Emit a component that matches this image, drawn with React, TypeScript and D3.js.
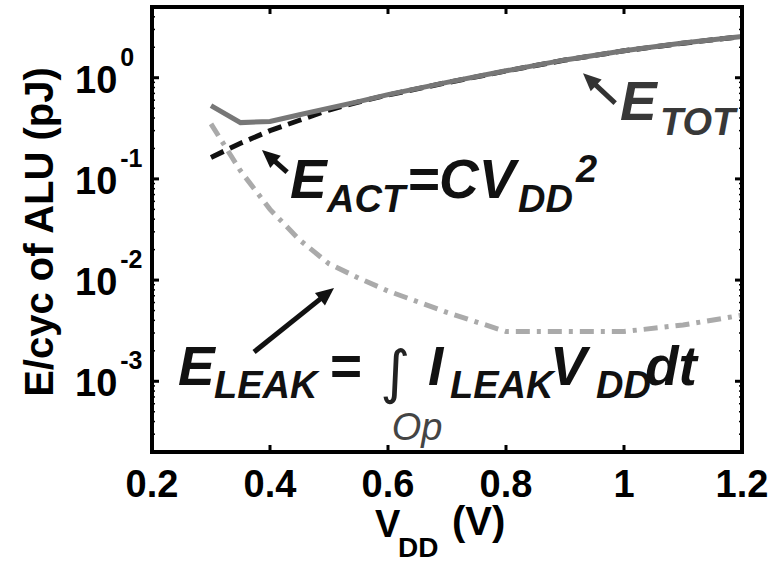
import * as d3 from 'd3';

// supply voltage samples (V)
const VDD = [0.3, 0.35, 0.4, 0.45, 0.5, 0.55, 0.6, 0.7, 0.8, 0.9, 1.0, 1.1, 1.2];
// energy per cycle of ALU (pJ)
const E_TOT = [0.53, 0.36, 0.37, 0.43, 0.5, 0.58, 0.68, 0.9, 1.17, 1.5, 1.85, 2.2, 2.55];
const E_ACT = [0.163, 0.225, 0.3, 0.38, 0.48, 0.575, 0.675, 0.895, 1.165, 1.495, 1.845, 2.195, 2.55];
const E_LEAK = [0.35, 0.12, 0.05, 0.025, 0.0145, 0.0105, 0.0078, 0.0048, 0.0031, 0.0031, 0.0031, 0.0036, 0.0045];

const X_TICKS = [0.2, 0.4, 0.6, 0.8, 1, 1.2];
const X_TICK_LABELS = ['0.2', '0.4', '0.6', '0.8', '1', '1.2'];
const Y_DECADES = [-3, -2, -1, 0];

// arrow annotations in data space: [vdd, energy]
const ARROWS = [
  { from: [0.985, 0.562], to: [0.9305, 1.11], color: '#333' },
  { from: [0.429, 0.117], to: [0.3864, 0.193], color: '#111' },
  { from: [0.373, 0.00195], to: [0.5085, 0.00836], color: '#111' },
];

const W = 774;
const H = 562;
const margin = { top: 7, right: 32, bottom: 110, left: 152 };
const FONT = '"Liberation Sans", Arial, Helvetica, sans-serif';

function Arrow({ x1, y1, x2, y2, color }: { x1: number; y1: number; x2: number; y2: number; color: string }) {
  const dx = x2 - x1;
  const dy = y2 - y1;
  const len = Math.hypot(dx, dy);
  const ux = dx / len;
  const uy = dy / len;
  const hl = 18;
  const hw = 8;
  const bx = x2 - ux * hl;
  const by = y2 - uy * hl;
  const pts = [
    [x2, y2],
    [bx - uy * hw, by + ux * hw],
    [bx + uy * hw, by - ux * hw],
  ];
  return (
    <g>
      <line x1={x1} y1={y1} x2={bx + ux * 3} y2={by + uy * 3} stroke={color} strokeWidth={5} />
      <polygon points={pts.map(p => p.join(',')).join(' ')} fill={color} />
    </g>
  );
}

export default function App() {
  const x = d3.scaleLinear().domain([0.2, 1.2]).range([margin.left, W - margin.right]);
  const y = d3.scaleLog().domain([2e-4, 5]).range([H - margin.bottom, margin.top]);
  const x0 = margin.left;
  const x1 = W - margin.right;
  const y0 = H - margin.bottom;
  const y1 = margin.top;

  const path = (vals: number[]) =>
    d3.line<number>()
      .x((_, i) => x(VDD[i]))
      .y(d => y(d))(vals) || '';

  const minor = y.ticks().filter(t => {
    const l = Math.log10(t);
    return Math.abs(l - Math.round(l)) > 1e-6;
  });

  const tick = 7;

  return (
    <svg
      width={W}
      height={H}
      style={{ position: 'absolute', left: 0, top: 0, background: '#fff' }}
      fontFamily={FONT}
    >
      <rect width={W} height={H} fill="#fff" />

      {/* curves */}
      <path d={path(E_LEAK)} fill="none" stroke="#aaa" strokeWidth={5} strokeDasharray="14,7,4,7" />
      <path d={path(E_ACT)} fill="none" stroke="#111" strokeWidth={5} strokeDasharray="14,7" />
      <path d={path(E_TOT)} fill="none" stroke="#777" strokeWidth={5} />

      {/* ticks */}
      {X_TICKS.map(t => (
        <g key={'xt' + t}>
          <line x1={x(t)} x2={x(t)} y1={y0} y2={y0 - tick} stroke="#000" strokeWidth={3} />
          <line x1={x(t)} x2={x(t)} y1={y1} y2={y1 + tick} stroke="#000" strokeWidth={3} />
        </g>
      ))}
      {Y_DECADES.map(d => (
        <g key={'yt' + d}>
          <line x1={x0} x2={x0 + tick} y1={y(10 ** d)} y2={y(10 ** d)} stroke="#000" strokeWidth={3} />
          <line x1={x1} x2={x1 - tick} y1={y(10 ** d)} y2={y(10 ** d)} stroke="#000" strokeWidth={3} />
        </g>
      ))}
      {minor.map(t => (
        <g key={'ym' + t}>
          <line x1={x0} x2={x0 + 3} y1={y(t)} y2={y(t)} stroke="#000" strokeWidth={1.5} />
          <line x1={x1} x2={x1 - 3} y1={y(t)} y2={y(t)} stroke="#000" strokeWidth={1.5} />
        </g>
      ))}

      {/* axes box */}
      <rect x={x0} y={y1} width={x1 - x0} height={y0 - y1} fill="none" stroke="#000" strokeWidth={4} />

      {/* tick labels */}
      {X_TICKS.map((t, i) => (
        <text key={'xl' + t} x={x(t)} y={y0 + 45} textAnchor="middle" fontSize={38} fontWeight="bold">
          {X_TICK_LABELS[i]}
        </text>
      ))}
      {Y_DECADES.map(d => (
        <text key={'yl' + d} x={75} y={y(10 ** d) + 15} fontSize={38} fontWeight="bold">
          10
          <tspan dx={3} dy={-27} fontSize={25}>{String(d)}</tspan>
        </text>
      ))}

      {/* axis titles */}
      <text
        transform="translate(53,232) rotate(-90)"
        textAnchor="middle"
        fontSize={40}
        fontWeight="bold"
      >
        E/cyc of ALU (pJ)
      </text>
      <text fontWeight="bold">
        <tspan x={375} y={537} fontSize={38}>V</tspan>
        <tspan x={398} y={557} fontSize={28}>DD</tspan>
        <tspan x={452} y={535} fontSize={40}>(V)</tspan>
      </text>

      {/* annotations */}
      {ARROWS.map((a, i) => (
        <Arrow key={'ar' + i} x1={x(a.from[0])} y1={y(a.from[1])} x2={x(a.to[0])} y2={y(a.to[1])} color={a.color} />
      ))}

      <text fontWeight="bold" fontStyle="italic" fill="#383838">
        <tspan x={620} y={120} fontSize={55}>E</tspan>
        <tspan x={660} y={135} fontSize={38}>TOT</tspan>
      </text>

      <text fontWeight="bold" fontStyle="italic" fill="#111">
        <tspan x={290} y={198} fontSize={55}>E</tspan>
        <tspan x={327} y={212} fontSize={38}>ACT</tspan>
        <tspan x={407} y={198} fontSize={55}>=CV</tspan>
        <tspan x={518} y={212} fontSize={38}>DD</tspan>
        <tspan x={576} y={182} fontSize={38}>2</tspan>
      </text>

      <text fontWeight="bold" fontStyle="italic" fill="#111">
        <tspan x={178} y={385} fontSize={55}>E</tspan>
        <tspan x={214} y={398} fontSize={38}>LEAK</tspan>
        <tspan x={330} y={385} fontSize={55} fontStyle="normal">=</tspan>
        <tspan x={428} y={385} fontSize={55}>I</tspan>
        <tspan x={450} y={398} fontSize={38}>LEAK</tspan>
      </text>
      <text fontWeight="bold" fontStyle="italic" fill="#111">
        <tspan x={550} y={385} fontSize={55}>V</tspan>
        <tspan x={596} y={398} fontSize={38}>DD</tspan>
        <tspan x={645} y={385} fontSize={55}>dt</tspan>
      </text>
      <text x={395} y={392} fontSize={58} textAnchor="middle" fill="#222" fontFamily='"DejaVu Sans", sans-serif' fontWeight="normal">
        ∫
      </text>
      <text x={417} y={440} fontSize={38} textAnchor="middle" fontStyle="italic" fill="#444">
        Op
      </text>
    </svg>
  );
}
